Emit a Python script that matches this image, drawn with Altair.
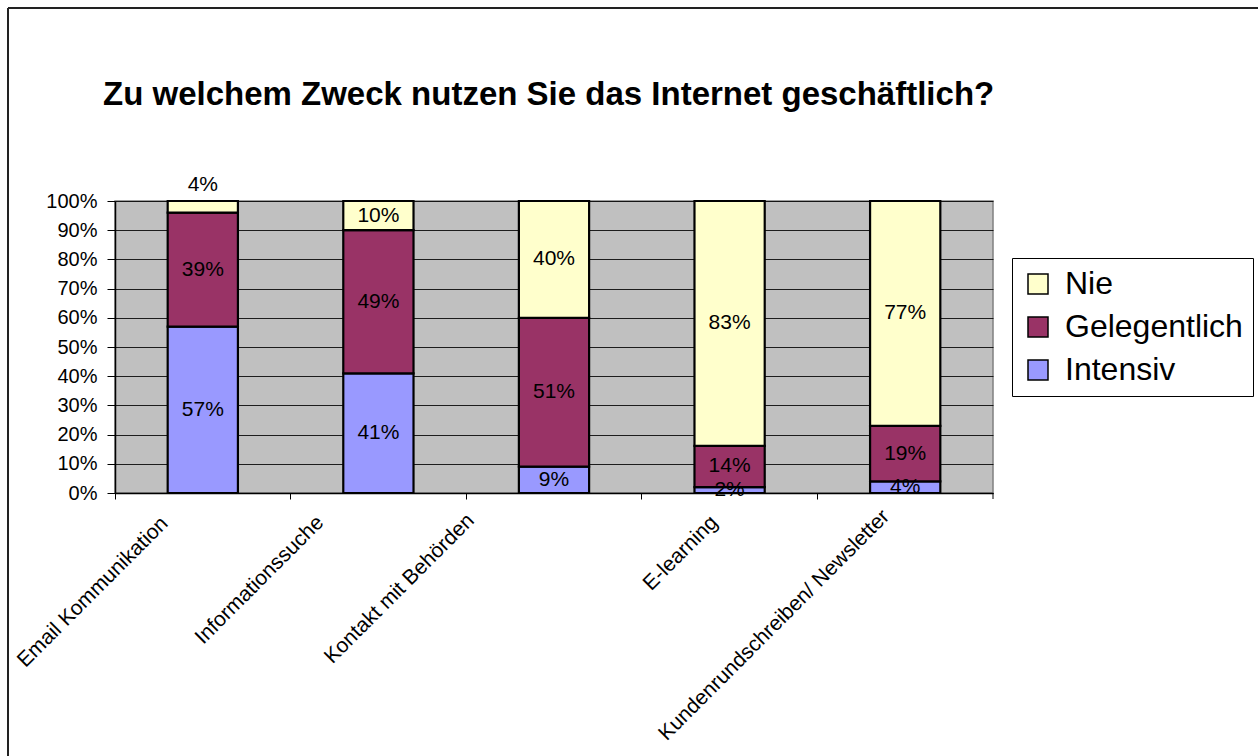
import altair as alt
import pandas as pd

kategorien = ["Email Kommunikation", "Informationssuche", "Kontakt mit Behörden",
              "E-learning", "Kundenrundschreiben/ Newsletter"]
intensiv = [57, 41, 9, 2, 4]
gelegentlich = [39, 49, 51, 14, 19]
nie = [4, 10, 40, 83, 77]
reihen = ["Nie", "Gelegentlich", "Intensiv"]
farben = ["#FFFFCC", "#993366", "#9999FF"]
titel = "Zu welchem Zweck nutzen Sie das Internet geschäftlich?"

rows = []
for i, k in enumerate(kategorien):
    for order, (name, vals) in enumerate([("Intensiv", intensiv), ("Gelegentlich", gelegentlich), ("Nie", nie)]):
        rows.append({"Zweck": k, "Reihe": name, "Wert": vals[i], "ord": order})
df = pd.DataFrame(rows)

FONT = "Liberation Sans"

label_offsets = {"Email Kommunikation": -38, "Informationssuche": -58, "Kontakt mit Behörden": -83,
                 "E-learning": -15, "Kundenrundschreiben/ Newsletter": -19}
label_pads = {"Email Kommunikation": 21, "Informationssuche": 20, "Kontakt mit Behörden": 18,
              "E-learning": 20, "Kundenrundschreiben/ Newsletter": 14}

def cond(d, default):
    return {"condition": [{"test": f"datum.value === '{k}'", "value": v} for k, v in d.items()],
            "value": default}

base = alt.Chart(df).transform_stack(
    stack="Wert", groupby=["Zweck"], as_=["y0", "y1"], offset="normalize",
    sort=[alt.SortField("ord", order="ascending")]
).transform_calculate(
    mid="(datum.y0 + datum.y1) / 2", txt="datum.Wert + '%'"
)

x_axis = alt.Axis(bandPosition=0, labelAngle=-45, labelAlign="right",
                  labelBaseline="middle", labelFont=FONT, labelFontSize=21,
                  labelColor="black", domainColor="black", domainWidth=1.5,
                  tickColor="black", tickSize=6, tickWidth=1, labelLimit=0,
                  labelOverlap=False,
                  labelOffset=cond(label_offsets, 0),
                  labelPadding=cond(label_pads, 20))
x_scale = alt.Scale(paddingInner=0, paddingOuter=0)

y_axis = alt.Axis(format=".0%", values=[i / 10 for i in range(11)],
                  labelOverlap=False,
                  labelFont=FONT, labelFontSize=20, labelColor="black",
                  domainColor="black", domainWidth=1.5, tickColor="black",
                  tickSize=8, labelPadding=10, gridColor="black", gridWidth=1,
                  gridOpacity=0.85)
y_scale = alt.Scale(domain=[0, 1], nice=False)

def xe():
    return alt.X("Zweck:N", sort=kategorien, title=None, scale=x_scale, axis=x_axis)

def ye(field):
    return alt.Y(field, title=None, scale=y_scale, axis=y_axis)

bars = base.mark_bar(width=alt.RelativeBandSize(0.4), stroke="black", strokeWidth=2.2).encode(
    x=xe(),
    y=ye("y0:Q"),
    y2="y1:Q",
    color=alt.Color("Reihe:N", scale=alt.Scale(domain=reihen, range=farben),
                    legend=alt.Legend(title=None, orient="none", legendX=897, legendY=57,
                                      fillColor="white", strokeColor="black", padding=10,
                                      symbolType="square", symbolSize=400,
                                      symbolStrokeColor="black", symbolStrokeWidth=1.5,
                                      labelFont=FONT, labelFontSize=32, labelColor="black",
                                      labelLimit=0,
                                      labelOffset=11, rowPadding=11, symbolOpacity=1)),
)

texts = base.transform_filter(
    "!(datum.Zweck === 'Email Kommunikation' && datum.Reihe === 'Nie')"
).mark_text(font=FONT, fontSize=21, color="black", baseline="middle").encode(
    x=xe(), y=ye("mid:Q"), text="txt:N")

text_top = base.transform_filter(
    "datum.Zweck === 'Email Kommunikation' && datum.Reihe === 'Nie'"
).mark_text(font=FONT, fontSize=21, color="black", baseline="middle", dy=-22).encode(
    x=xe(), y=ye("mid:Q"), text="txt:N")

one = alt.Chart(pd.DataFrame({"a": [0]}))
frame_left = one.mark_rule(color="#222222", strokeWidth=2).encode(
    x=alt.value(-107), y=alt.value(-193), y2=alt.value(560))
frame_top = one.mark_rule(color="#222222", strokeWidth=2).encode(
    x=alt.value(-107), x2=alt.value(1150), y=alt.value(-193))
last_tick = one.mark_rule(color="black", strokeWidth=1).encode(
    x=alt.value(878), y=alt.value(292), y2=alt.value(298))

title_mark = alt.Chart(pd.DataFrame({"t": [titel]})).mark_text(
    font=FONT, fontSize=33, fontWeight="bold", color="black", align="left",
    baseline="alphabetic").encode(x=alt.value(-12), y=alt.value(-96), text="t:N")

chart = alt.layer(bars, texts, text_top, frame_left, frame_top, last_tick, title_mark).properties(
    width=878, height=292,
    autosize=alt.AutoSizeParams(type="none"),
    padding={"left": 115, "top": 201, "right": 265, "bottom": 263},
    background="white",
).configure_view(fill="#C0C0C0", stroke="#808080", strokeWidth=1.5)

chart.save("out.html", embed_options={"renderer": "svg", "actions": False})
